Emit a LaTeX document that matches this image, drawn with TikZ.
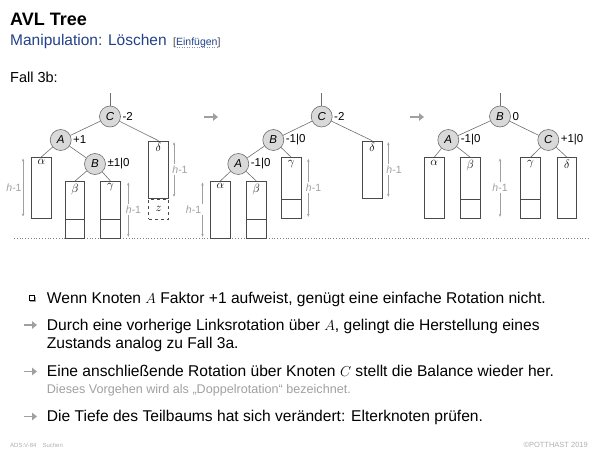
\documentclass[tikz,border=0pt]{standalone}
\usepackage{fontspec}
\setmainfont{Liberation Sans}
\usetikzlibrary{arrows.meta}
\definecolor{titleblue}{HTML}{22418A}
\definecolor{nodefill}{HTML}{D9D9D9}
\definecolor{nodegray}{HTML}{6E6E6E}
\definecolor{boxgray}{HTML}{4A4A4A}
\definecolor{lightgray}{HTML}{A0A0A0}
\definecolor{footgray}{HTML}{B0B0B0}
\newcommand{\fs}[1]{\fontsize{#1}{#1}\selectfont}
\begin{document}
\begin{tikzpicture}[x=1pt,y=-1pt,
  tnode/.style={circle, draw=nodegray, fill=nodefill, line width=0.6pt, minimum size=21pt, inner sep=0pt, font=\fs{11.5}\itshape},
  leaf/.style={draw=boxgray, fill=white, line width=0.6pt, minimum width=19.5pt, inner sep=0pt, anchor=north},
  glabel/.style={anchor=north, inner sep=0pt, yshift=-2.5pt, font=\fs{13}},
  edge/.style={draw=nodegray, line width=0.6pt},
  bal/.style={anchor=west, inner sep=0pt, xshift=1.5pt, font=\fs{11.5}},
  harrow/.style={draw=lightgray, line width=0.5pt, {Stealth[length=3pt,width=2.5pt]}-{Stealth[length=3pt,width=2.5pt]}},
  hlab/.style={fill=white, inner xsep=1.5pt, inner ysep=2pt, text=lightgray, font=\fs{10.5}},
  bigarrow/.style={draw=lightgray, line width=2.2pt, -{Triangle[length=5pt,width=7.5pt]}},
  txt/.style={anchor=base west, inner sep=0pt, font=\fs{15.6}},
  sep/.style={draw=boxgray, line width=0.6pt}
]
\useasboundingbox (0,0) rectangle (600,450);

% header
\node[anchor=base west, inner sep=0pt, font=\fs{18}\bfseries] (title) at (10,25) {AVL Tree};
\node[anchor=base west, inner sep=0pt, font=\fs{15.5}, text=titleblue] (sub) at (10,45) {Manipulation: Löschen};
\node[anchor=base west, inner sep=0pt, font=\fs{10.5}, text=darkgray] (ref) at (173,45) {[\textcolor{titleblue}{Einfügen}]};
\draw[titleblue!60, dotted, line width=0.5pt] ([xshift=3.5pt,yshift=-2pt]ref.base west) -- ([xshift=-3.5pt,yshift=-2pt]ref.base east);
\node[anchor=base west, inner sep=0pt, font=\fs{14.5}] (fall) at (10,82) {Fall 3b:};

% baseline
\draw[gray, dotted, line width=0.8pt] (14,238.3) -- (590,238.3);

% ---------- panel 1
\coordinate (r1) at (110,93);
\node[tnode] (C1) at (110,116.5) {C};
\node[tnode] (A1) at (60.7,140) {A};
\node[tnode] (B1) at (95,164) {B};
\node[bal] at (C1.east) {-2};
\node[bal] at (A1.east) {+1};
\node[bal] at (B1.east) {±1|0};
\node[leaf, minimum height=61.3pt] (al1) at (41.3,157) {};
\node[leaf, minimum height=57.3pt] (be1) at (75,181) {};
\node[leaf, minimum height=57.3pt] (ga1) at (110.5,181) {};
\node[leaf, minimum height=57.6pt] (de1) at (158.5,140.7) {};
\node[leaf, dashed, minimum height=20pt] (z1) at (de1.south) {};
\node[glabel] at (al1.north) {$\alpha$};
\node[glabel] at (be1.north) {$\beta$};
\node[glabel] at (ga1.north) {$\gamma$};
\node[glabel] at (de1.north) {$\delta$};
\node[font=\fs{13}, inner sep=0pt] at (z1.center) {$z$};
\draw[sep] ([yshift=20pt]be1.south west) -- ([yshift=20pt]be1.south east);
\draw[sep] ([yshift=20pt]ga1.south west) -- ([yshift=20pt]ga1.south east);
\draw[edge] (r1) -- (C1);
\draw[edge] (C1) -- (A1);
\draw[edge] (C1) -- (de1.north);
\draw[edge] (A1) -- (al1.north);
\draw[edge] (A1) -- (B1);
\draw[edge] (B1) -- (be1.north);
\draw[edge] (B1) -- (ga1.north);
\draw[harrow] (23,158.5) -- (23,216.5);
\node[hlab] at (14,187.5) {\textit{h}-1};
\draw[harrow] (128.3,182.5) -- (128.3,236.8);
\node[hlab] at (133.5,209.5) {\textit{h}-1};
\draw[harrow] (174,142.2) -- (174,196.8);
\node[hlab] at (180,169.5) {\textit{h}-1};

% arrow 1
\coordinate (p1s) at (204,117);
\coordinate (p1e) at (218,117);
\draw[bigarrow] (p1s) -- (p1e);

% ---------- panel 2
\coordinate (r2) at (321.7,93);
\node[tnode] (C2) at (321.7,116.5) {C};
\node[tnode] (B2) at (273.3,140) {B};
\node[tnode] (A2) at (238.3,164) {A};
\node[bal] at (C2.east) {-2};
\node[bal] at (B2.east) {-1|0};
\node[bal] at (A2.east) {-1|0};
\node[leaf, minimum height=57.3pt] (al2) at (220.3,181) {};
\node[leaf, minimum height=57.3pt] (be2) at (256.3,181) {};
\node[leaf, minimum height=61pt] (ga2) at (291.3,157.3) {};
\node[leaf, minimum height=57.6pt] (de2) at (372.2,140.7) {};
\node[glabel] at (al2.north) {$\alpha$};
\node[glabel] at (be2.north) {$\beta$};
\node[glabel] at (ga2.north) {$\gamma$};
\node[glabel] at (de2.north) {$\delta$};
\draw[sep] ([yshift=20pt]be2.south west) -- ([yshift=20pt]be2.south east);
\draw[sep] ([yshift=20pt]ga2.south west) -- ([yshift=20pt]ga2.south east);
\draw[edge] (r2) -- (C2);
\draw[edge] (C2) -- (B2);
\draw[edge] (C2) -- (de2.north);
\draw[edge] (B2) -- (A2);
\draw[edge] (B2) -- (ga2.north);
\draw[edge] (A2) -- (al2.north);
\draw[edge] (A2) -- (be2.north);
\draw[harrow] (202.5,182.5) -- (202.5,236.8);
\node[hlab] at (193.5,209.5) {\textit{h}-1};
\draw[harrow] (308.3,158.8) -- (308.3,216.8);
\node[hlab] at (313.5,187.5) {\textit{h}-1};
\draw[harrow] (388.3,142.2) -- (388.3,196.8);
\node[hlab] at (394,169.5) {\textit{h}-1};

% arrow 2
\coordinate (p2s) at (410,117);
\coordinate (p2e) at (424,117);
\draw[bigarrow] (p2s) -- (p2e);

% ---------- panel 3
\coordinate (r3) at (500,93);
\node[tnode] (B3) at (500,116.5) {B};
\node[tnode] (A3) at (448.3,140) {A};
\node[tnode] (C3) at (548.3,140) {C};
\node[bal] at (B3.east) {0};
\node[bal] at (A3.east) {-1|0};
\node[bal] at (C3.east) {+1|0};
\node[leaf, minimum height=61pt] (al3) at (434.2,157.3) {};
\node[leaf, minimum height=61pt] (be3) at (470.3,157.3) {};
\node[leaf, minimum height=61pt] (ga3) at (530.5,157.3) {};
\node[leaf, minimum height=61pt] (de3) at (567,157.3) {};
\node[glabel] at (al3.north) {$\alpha$};
\node[glabel] at (be3.north) {$\beta$};
\node[glabel] at (ga3.north) {$\gamma$};
\node[glabel] at (de3.north) {$\delta$};
\draw[sep] ([yshift=20pt]be3.south west) -- ([yshift=20pt]be3.south east);
\draw[sep] ([yshift=20pt]ga3.south west) -- ([yshift=20pt]ga3.south east);
\draw[edge] (r3) -- (B3);
\draw[edge] (B3) -- (A3);
\draw[edge] (B3) -- (C3);
\draw[edge] (A3) -- (al3.north);
\draw[edge] (A3) -- (be3.north);
\draw[edge] (C3) -- (ga3.north);
\draw[edge] (C3) -- (de3.north);
\draw[harrow] (500,158.5) -- (500,216.8);
\node[hlab] at (500,187.5) {\textit{h}-1};

% ---------- bullet text
\node[txt] (l1) at (46.7,303) {Wenn Knoten $A$ Faktor +1 aufweist, genügt eine einfache Rotation nicht.};
\node[txt] (l2) at (46.7,330) {Durch eine vorherige Linksrotation über $A$, gelingt die Herstellung eines};
\node[txt] (l3) at (46.7,348.5) {Zustands analog zu Fall 3a.};
\node[txt] (l4) at (46.7,376.5) {Eine anschließende Rotation über Knoten $C$ stellt die Balance wieder her.};
\node[txt, font=\fs{12.6}, text=lightgray] (l4b) at (46.7,393) {Dieses Vorgehen wird als „Doppelrotation“ bezeichnet.};
\node[txt] (l5) at (46.7,421.5) {Die Tiefe des Teilbaums hat sich verändert: Elterknoten prüfen.};

% bullets
\fill[gray!70] (30.3,296.5) rectangle (35.5,301.7);
\draw[black, fill=white, line width=0.5pt] (29.3,295.5) rectangle (34.3,300.5);
\coordinate (b2s) at (24,325);
\coordinate (b2e) at (37,325);
\draw[bigarrow, line width=1.8pt] (b2s) -- (b2e);
\coordinate (b4s) at (24,371.5);
\coordinate (b4e) at (37,371.5);
\draw[bigarrow, line width=1.8pt] (b4s) -- (b4e);
\coordinate (b5s) at (24,416.5);
\coordinate (b5e) at (37,416.5);
\draw[bigarrow, line width=1.8pt] (b5s) -- (b5e);

% footer
\node[anchor=base west, inner sep=0pt, font=\fs{6}, text=footgray] (f1) at (10,447) {ADS:V-84\hspace{6pt}Suchen};
\node[anchor=base east, inner sep=0pt, font=\fs{7.5}, text=footgray] (f2) at (588,447) {©POTTHAST 2019};
\end{tikzpicture}
\end{document}
